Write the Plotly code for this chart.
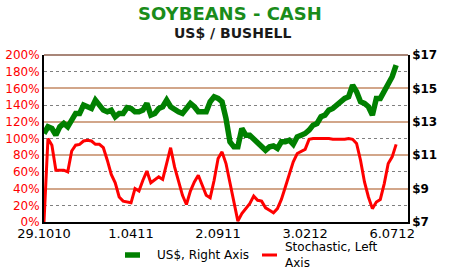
import plotly.graph_objects as go

# Weekly observations, 29.10.2010 .. ~13.07.2012
week_index = list(range(90))
tick_weeks = [0, 22, 44, 66, 88]
tick_labels = ["29.1010", "1.0411", "2.0911", "3.0212", "6.0712"]

price_usd = [
    12.3, 12.7, 12.6, 12.2, 12.7, 12.9, 12.7, 13.1, 13.5, 13.5,
    14.0, 13.9, 13.8, 14.3, 14.0, 13.7, 13.6, 13.7, 13.3, 13.5,
    13.5, 13.85, 13.8, 13.6, 13.6, 13.7, 14.1, 13.4, 13.5, 13.8,
    13.9, 14.3, 13.9, 13.7, 13.6, 13.5, 13.8, 14.1, 13.9, 13.6,
    13.6, 13.6, 14.2, 14.5, 14.4, 14.2, 13.2, 11.8, 11.5, 11.5,
    12.6, 12.2, 12.2, 11.95, 11.8, 11.5, 11.3, 11.5, 11.55, 11.4,
    11.8, 11.8, 11.9, 11.65, 12.1, 12.2, 12.3, 12.5, 12.8, 12.9,
    13.3, 13.4, 13.7, 13.8, 14.0, 14.3, 14.4, 14.5, 15.2, 14.8,
    14.2, 14.1, 13.9, 13.4, 14.4, 14.4, 14.8, 15.35, 15.7, 16.4,
]

stochastic_pct = [
    0, 100, 92, 62, 62, 62, 60, 85, 92, 93,
    97, 98, 97, 93, 93, 89, 74, 57, 47, 30,
    25, 24, 23, 40, 37, 50, 61, 47, 51, 54,
    51, 72, 89, 66, 48, 32, 21, 37, 48, 56,
    44, 32, 29, 50, 76, 84, 70, 48, 22, 1,
    10, 16, 22, 31, 26, 25, 17, 14, 11, 16,
    27, 42, 57, 72, 82, 85, 87, 99, 100, 100,
    100, 100, 100, 99, 99, 99, 99, 100, 99, 94,
    74, 48, 30, 16, 24, 27, 46, 70, 78, 93,
]

series_names = ["US$, Right Axis", "Stochastic, Left<br>Axis"]
series_colors = ["#008000", "#ff0000"]
series_widths = [5.5, 3]

FONT = "DejaVu Sans"
H, T, B, L, R, W = 274, 55, 52, 44, 51, 459
ph = H - T - B
pw = W - L - R


def px_to_paper(px, py):
    return (px - L) / pw, (H - B - py) / ph


fig = go.Figure()
fig.add_trace(go.Scatter(
    x=week_index, y=price_usd, yaxis="y2", mode="lines", showlegend=False,
    name=series_names[0], line=dict(color=series_colors[0], width=series_widths[0]),
))
fig.add_trace(go.Scatter(
    x=week_index, y=stochastic_pct, yaxis="y", mode="lines", showlegend=False,
    name=series_names[1], line=dict(color=series_colors[1], width=series_widths[1]),
))

t0x, t0y = px_to_paper(230, 14)
t1x, t1y = px_to_paper(232, 33)

annotations = [
    dict(text="<b>SOYBEANS - CASH</b>", xref="paper", yref="paper", x=t0x, y=t0y,
         xanchor="center", yanchor="middle", showarrow=False,
         font=dict(family=FONT, size=18, color="#1a8c1a")),
    dict(text="<b>US$ / BUSHELL</b>", xref="paper", yref="paper", x=t1x, y=t1y,
         xanchor="center", yanchor="middle", showarrow=False,
         font=dict(family=FONT, size=14, color="#1a1a1a")),
]
shapes = [
    dict(type="line", xref="paper", yref="paper", x0=0, x1=1, y0=1, y1=1,
         line=dict(color="#8b5e4b", width=1.5)),
]

# custom legend (sample line + text), matching the reference's layout
legend_sample_px = [(125, 140), (262, 277)]
legend_text_px = [155, 283]
legend_y_px = 255
for i in range(2):
    sx0, sy = px_to_paper(legend_sample_px[i][0], legend_y_px)
    sx1, _ = px_to_paper(legend_sample_px[i][1], legend_y_px)
    shapes.append(dict(type="line", xref="paper", yref="paper", x0=sx0, x1=sx1,
                       y0=sy, y1=sy, line=dict(color=series_colors[i], width=series_widths[i])))
    tx, ty = px_to_paper(legend_text_px[i], legend_y_px)
    annotations.append(dict(text=series_names[i], xref="paper", yref="paper", x=tx, y=ty,
                            xanchor="left", yanchor="middle", align="left", showarrow=False,
                            font=dict(family=FONT, size=12, color="black")))

fig.update_layout(
    width=W, height=H,
    margin=dict(l=L, r=R, t=T, b=B, autoexpand=False),
    paper_bgcolor="white", plot_bgcolor="white",
    showlegend=False,
    xaxis=dict(
        range=[0, 92], tickmode="array", tickvals=tick_weeks, ticktext=tick_labels,
        showgrid=False, zeroline=False, showline=True, linecolor="black", linewidth=1.5,
        ticks="", ticklen=0, ticklabelstandoff=-1,
        tickfont=dict(family=FONT, size=13, color="black"),
        automargin=False,
    ),
    yaxis=dict(
        range=[0, 200], tick0=0, dtick=20, ticksuffix="%",
        showgrid=True, gridcolor="#808080", griddash="dot", gridwidth=1,
        zeroline=False, showline=True, linecolor="black", linewidth=2,
        ticks="", tickfont=dict(family=FONT, size=12, color="#ff0000"),
        automargin=False,
    ),
    yaxis2=dict(
        range=[7, 17], tick0=7, dtick=2, tickprefix="$", overlaying="y", side="right",
        showgrid=True, gridcolor="#d2a68a", gridwidth=1.5,
        zeroline=False, showline=True, linecolor="black", linewidth=1.5,
        ticks="", tickfont=dict(family=FONT, size=12, color="black", weight="bold"),
        automargin=False,
    ),
    annotations=annotations,
    shapes=shapes,
)

fig.write_html("out.html")
